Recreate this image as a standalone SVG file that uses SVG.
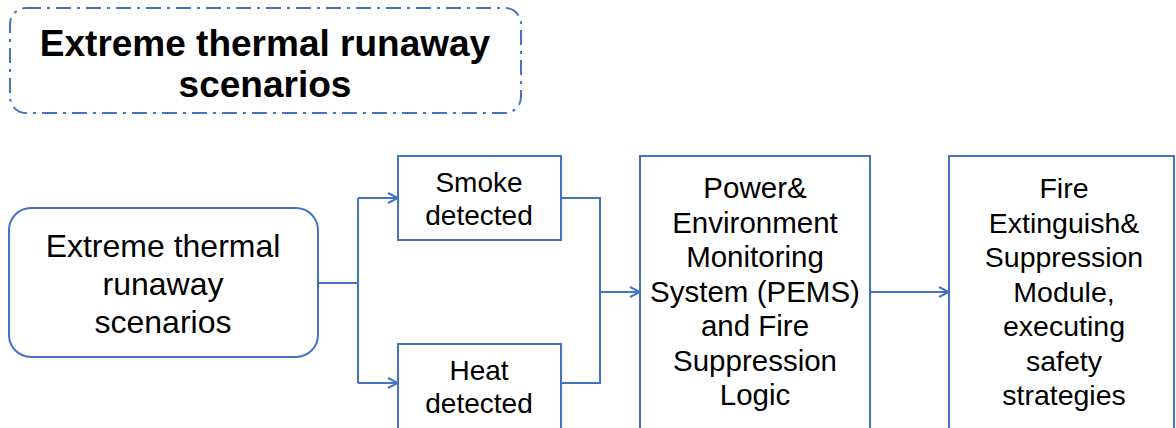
<svg xmlns="http://www.w3.org/2000/svg" width="1176" height="428" viewBox="0 0 1176 428">
<defs>
<style>
.box{fill:#fff;stroke:#4472C4;stroke-width:2}
.ln{fill:none;stroke:#4472C4;stroke-width:2}
.t{font-family:"Liberation Sans",Arial,sans-serif;fill:#000;text-anchor:middle}
.t28{font-size:28px}
.t29{font-size:29.5px}
.t285{font-size:28.5px}
.t32{font-size:32px}
.title{font-size:37px;font-weight:bold}
</style>
<marker id="arr" viewBox="0 0 12 12" refX="11" refY="6" markerWidth="12" markerHeight="12" markerUnits="userSpaceOnUse" orient="auto">
<path d="M1,1 L11,6 L1,11" fill="none" stroke="#4472C4" stroke-width="2"/>
</marker>
</defs>
<rect width="1176" height="428" fill="#fff"/>
<g id="title">
<rect x="10" y="8" width="511" height="105" rx="16" fill="none" stroke="#4472C4" stroke-width="2" stroke-dasharray="15 6 3 6"/>
<text class="t title" x="265" y="56">Extreme thermal runaway</text>
<text class="t title" x="265" y="97">scenarios</text>
</g>
<g id="connectors">
<path class="ln" d="M318,283 H358 M358,198 V383"/>
<path class="ln" d="M358,198 H398" marker-end="url(#arr)"/>
<path class="ln" d="M358,383 H398" marker-end="url(#arr)"/>
<path class="ln" d="M561,198 H600 V383 H561"/>
<path class="ln" d="M600,292 H640" marker-end="url(#arr)"/>
<path class="ln" d="M870,292 H949" marker-end="url(#arr)"/>
</g>
<g id="start">
<rect class="box" x="9" y="208" width="309" height="149" rx="22"/>
<text class="t t32" x="163" y="257">Extreme thermal</text>
<text class="t t32" x="163" y="295">runaway</text>
<text class="t t32" x="163" y="333">scenarios</text>
</g>
<g id="smoke">
<rect class="box" x="398" y="156" width="163" height="84"/>
<text class="t t28" x="479" y="192">Smoke</text>
<text class="t t28" x="479" y="225">detected</text>
</g>
<g id="heat">
<rect class="box" x="398" y="344" width="163" height="90"/>
<text class="t t28" x="479" y="380">Heat</text>
<text class="t t28" x="479" y="413">detected</text>
</g>
<g id="pems">
<rect class="box" x="640" y="156" width="230" height="280"/>
<text class="t t29" x="755" y="198">Power&amp;</text>
<text class="t t29" x="755" y="232.5">Environment</text>
<text class="t t29" x="755" y="267">Monitoring</text>
<text class="t t29" x="755" y="301.5">System (PEMS)</text>
<text class="t t29" x="755" y="336">and Fire</text>
<text class="t t29" x="755" y="370.5">Suppression</text>
<text class="t t29" x="755" y="405">Logic</text>
</g>
<g id="fire">
<rect class="box" x="949" y="156" width="225" height="280"/>
<text class="t t285" x="1064" y="198">Fire</text>
<text class="t t285" x="1064" y="232.5">Extinguish&amp;</text>
<text class="t t285" x="1064" y="267">Suppression</text>
<text class="t t285" x="1064" y="301.5">Module,</text>
<text class="t t285" x="1064" y="336">executing</text>
<text class="t t285" x="1064" y="370.5">safety</text>
<text class="t t285" x="1064" y="405">strategies</text>
</g>
</svg>
